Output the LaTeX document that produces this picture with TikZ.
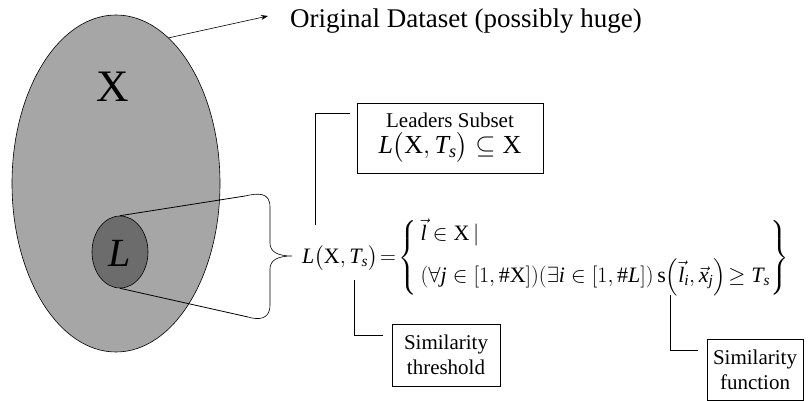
\RequirePackage{fix-cm}
\documentclass[tikz,border=0pt]{standalone}
\usepackage{amsmath}
\usepackage{fontspec}
\setmainfont{Liberation Serif}
\usetikzlibrary{arrows.meta,shapes.geometric}
\newcommand\mi[1]{\textit{#1}}
\definecolor{setgray}{RGB}{166,166,166}
\definecolor{subgray}{RGB}{108,108,108}
\tikzset{
  thinline/.style={draw=black,line width=0.8pt},
  notebox/.style={draw=black,line width=0.8pt,align=center,inner sep=0pt,
    font=\fontsize{21}{25}\selectfont},
}
\begin{document}
\begin{tikzpicture}[x=1pt,y=-1pt]
\useasboundingbox (0,0) rectangle (809,401);

% the dataset X and its leaders subset L
\node[ellipse,draw=black,line width=0.6pt,fill=setgray,minimum width=208,minimum height=337,inner sep=0pt] (X) at (116,183.5) {};
\node[ellipse,draw=black,line width=0.6pt,fill=subgray,minimum width=56,minimum height=72,inner sep=0pt] (L) at (120,252) {};
\node[font=\fontsize{45}{50}\selectfont] (Xlab) at (113,87) {X};
\node[font=\fontsize{40}{44}\selectfont] (Llab) at (120,253) {\mi{L}};

% arrow to the dataset caption
\node[anchor=base west,inner sep=0pt,font=\fontsize{27}{32}\selectfont] (orig) at (290,28) {Original Dataset (possibly huge)};
\coordinate (arrstart) at (168,38);
\coordinate (arrend) at (268,16);
\draw[line width=0.6pt,-{Stealth[length=7pt,width=5pt]}] (arrstart) -- (arrend);

% brace gathering L
\coordinate (btop) at (245,196);
\coordinate (bbot) at (248,317);
\coordinate (btip) at (292,256);
\draw[thinline] (L.north) -- (btop);
\draw[thinline] (L.south) -- (bbot);
\draw[thinline,line width=0.6pt] (btop) .. controls (258,193) and (270,192) .. (270,207)
  -- (270,243) .. controls (270,252) and (278,256) .. (btip)
  .. controls (278,256) and (270,260) .. (270,269)
  -- (270,305) .. controls (270,320) and (258,320) .. (bbot);

% the definition of L(X,Ts)
\node[anchor=west,inner sep=0pt,font=\fontsize{22}{26}\selectfont] (def) at (302,258)
  {$\mi{L}\bigl(\text{X},\mi{T}_{\mi{s}}\bigr)\!=\!
   \left\{\begin{array}{@{\,}l@{}}
     \vec{\mi{l}}\in\text{X}\,|\\[9pt]
     (\forall \mi{j}\in[1,\#\text{X}])(\exists \mi{i}\in[1,\#\mi{L}])\,\text{s}\Bigl(\vec{\mi{l}}_{\mi{i}},\vec{\mi{x}}_{\mi{j}}\Bigr)\!\geq \mi{T}_{\mi{s}}
   \end{array}\right\}$};

% annotation boxes
\node[notebox,minimum width=186,minimum height=70] (leaders) at (450,138)
  {Leaders Subset\\[1pt]{\fontsize{26}{28}\selectfont$\mi{L}\bigl(\text{X},\mi{T}_{\mi{s}}\bigr)\subseteq\text{X}$}};
\node[notebox,minimum width=108,minimum height=62] (thresh) at (446,355) {Similarity\\threshold};
\node[notebox,minimum width=96,minimum height=61] (func) at (755,369.5) {Similarity\\function};

% leader lines of the boxes
\coordinate (ldfoot) at (315,225);
\coordinate (thfoot) at (354,280);
\coordinate (fnfoot) at (670,295);
\draw[thinline] (ldfoot) |- ([xshift=-7pt]leaders.west |- 0,113);
\draw[thinline] (thfoot) |- ([xshift=-9pt]thresh.west |- 0,335);
\draw[thinline] (fnfoot) |- ([xshift=-9pt]func.west |- 0,350);
\end{tikzpicture}
\end{document}
